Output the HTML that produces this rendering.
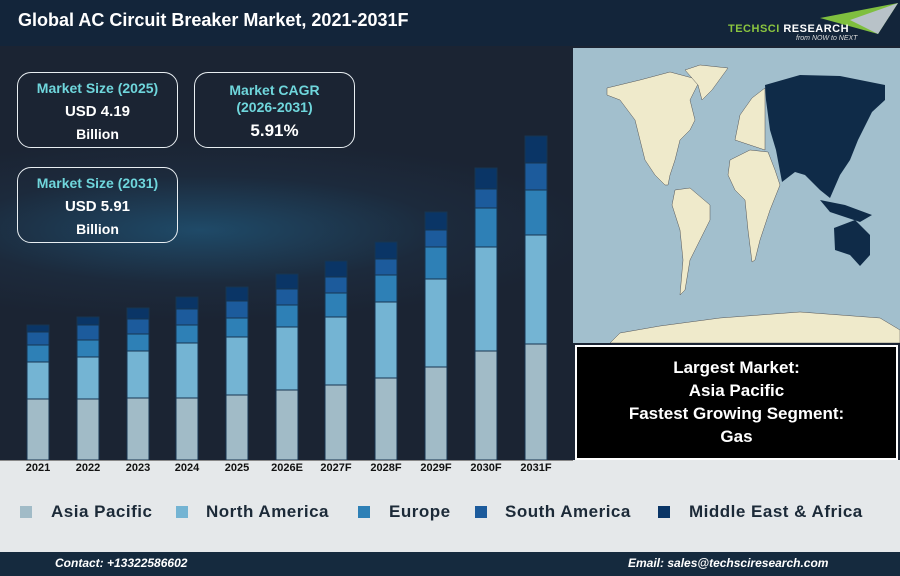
<!DOCTYPE html>
<html><head><meta charset="utf-8"><style>
body{margin:0;width:900px;height:576px;overflow:hidden;font-family:"Liberation Sans",sans-serif;background:#e5e8ea;position:relative}
.abs{position:absolute}
.box{position:absolute;border:1.5px solid #e8eef2;border-radius:14px;text-align:center;color:#fff;font-weight:bold;font-size:15px;line-height:23px;box-sizing:border-box;padding-top:4px}
.box .t{color:#6fd6dc;font-size:14px}
.leg{position:absolute;top:502px;font-size:17px;font-weight:bold;color:#1c2a38;letter-spacing:0.5px}
.sq{position:absolute;top:506px;width:12px;height:12px}
.yr{position:absolute;top:462px;font-size:11px;font-weight:bold;color:#111;width:50px;text-align:center}
</style></head><body>
<div class="abs" style="left:0;top:0;width:900px;height:460px;background:radial-gradient(ellipse 400px 90px at 200px 230px,#1f4a68 0%,#1c2a3c 60%,#1b2433 100%)"></div>
<div class="abs" style="left:0;top:0;width:900px;height:46px;background:#13253a"></div>
<div class="abs" style="left:18px;top:10px;color:#fff;font-size:18px;font-weight:bold">Global AC Circuit Breaker Market, 2021-2031F</div>
<svg class="abs" style="left:800px;top:2px" width="100" height="34"><polygon points="20,16 98,1 78,32" fill="#7fbf3f"/><polygon points="50,18 98,1 78,32" fill="#b8c2c8"/></svg>
<div class="abs" style="left:728px;top:23px;font-size:11px;font-weight:bold;letter-spacing:0.5px"><span style="color:#8bc53f">TECHSCI</span> <span style="color:#fff">RESEARCH</span></div>
<div class="abs" style="left:796px;top:35px;font-size:7px;font-style:italic;color:#ddd">from NOW to NEXT</div>

<div class="box" style="left:17px;top:72px;width:161px;height:76px"><div class="t">Market Size (2025)</div>USD 4.19<br><span style="font-size:14px">Billion</span></div>
<div class="box" style="left:194px;top:72px;width:161px;height:76px;line-height:17px;padding-top:9px"><div class="t">Market CAGR<br>(2026-2031)</div><div style="font-size:17px;margin-top:6px">5.91%</div></div>
<div class="box" style="left:17px;top:167px;width:161px;height:76px"><div class="t">Market Size (2031)</div>USD 5.91<br><span style="font-size:14px">Billion</span></div>

<svg class="abs" style="left:0;top:0" width="900" height="460" id="bars"></svg>
<script>
var d=[[27,325,332,345,362,399],[77,317,325,340,357,399],[127,308,319,334,351,398],[176,297,309,325,343,398],[226,287,301,318,337,395],[276,274,289,305,327,390],[325,261,277,293,317,385],[375,242,259,275,302,378],[425,212,230,247,279,367],[475,168,189,208,247,351],[525,136,163,190,235,344]];
var c=["#0a3566","#1c5b9c","#2e80b6","#74b4d3","#a1bbc7"];var s="";
d.forEach(function(b){for(var i=0;i<5;i++){var y1=b[i+1],y2=i<4?b[i+2]:460;s+='<rect x="'+b[0]+'" y="'+y1+'" width="22" height="'+(y2-y1)+'" fill="'+c[i]+'" stroke="#173550" stroke-width="1"/>';}});
document.getElementById("bars").innerHTML=s;
</script>
<div class="abs" style="left:0;top:460px;width:573px;height:1px;background:#888"></div>
<div class="yr" style="left:13px">2021</div><div class="yr" style="left:63px">2022</div><div class="yr" style="left:113px">2023</div><div class="yr" style="left:162px">2024</div><div class="yr" style="left:212px">2025</div><div class="yr" style="left:262px">2026E</div><div class="yr" style="left:311px">2027F</div><div class="yr" style="left:361px">2028F</div><div class="yr" style="left:411px">2029F</div><div class="yr" style="left:461px">2030F</div><div class="yr" style="left:511px">2031F</div>

<svg class="abs" style="left:573px;top:48px" width="327" height="295" viewBox="573 48 327 295">
<rect x="573" y="48" width="327" height="295" fill="#a2bfcd"/>
<g fill="#efeacb" stroke="#555" stroke-width="0.5">
<polygon points="607,88 640,80 670,72 700,80 690,100 695,120 690,130 680,140 675,160 670,175 668,185 665,185 655,175 645,160 640,140 635,120 620,100 607,95"/>
<polygon points="685,70 700,65 728,68 712,90 702,100 698,85"/>
<polygon points="675,190 690,188 710,205 710,220 700,240 690,260 685,290 680,295 683,260 680,230 672,205"/>
<polygon points="735,140 740,115 752,98 765,88 765,150 750,145"/>
<polygon points="730,160 750,150 768,152 775,170 780,185 770,210 760,240 755,260 752,262 748,230 745,200 735,190 728,175"/>
<polygon points="610,343 620,333 660,326 720,318 800,312 880,318 900,330 900,343"/>
</g>
<g fill="#0f2b48">
<polygon points="765,85 800,75 840,76 885,85 885,100 872,112 858,140 850,160 840,175 830,198 820,190 805,175 795,172 782,182 776,150 770,130 766,100"/>
<polygon points="820,200 845,205 872,215 860,222 830,212"/>
<polygon points="834,228 855,220 870,235 870,255 860,266 850,255 835,250"/>
</g>
</svg>
<div class="abs" style="left:575px;top:345px;width:323px;height:115px;background:#000;border:2px solid #fff;box-sizing:border-box;color:#fff;font-weight:bold;font-size:17px;text-align:center;line-height:23px;padding-top:9px">Largest Market:<br>Asia Pacific<br>Fastest Growing Segment:<br>Gas</div>

<div class="sq" style="left:20px;background:#a1bbc7"></div><div class="leg" style="left:51px">Asia Pacific</div>
<div class="sq" style="left:176px;background:#74b4d3"></div><div class="leg" style="left:206px">North America</div>
<div class="sq" style="left:358px;background:#2e80b6"></div><div class="leg" style="left:389px">Europe</div>
<div class="sq" style="left:475px;background:#1c5b9c"></div><div class="leg" style="left:505px">South America</div>
<div class="sq" style="left:658px;background:#0a3566"></div><div class="leg" style="left:689px">Middle East &amp; Africa</div>

<div class="abs" style="left:0;top:552px;width:900px;height:24px;background:#152a3e"></div>
<div class="abs" style="left:55px;top:556px;color:#fff;font-size:12px;font-weight:bold;font-style:italic">Contact: +13322586602</div>
<div class="abs" style="left:628px;top:556px;color:#fff;font-size:12px;font-weight:bold;font-style:italic">Email: sales@techsciresearch.com</div>
</body></html>
